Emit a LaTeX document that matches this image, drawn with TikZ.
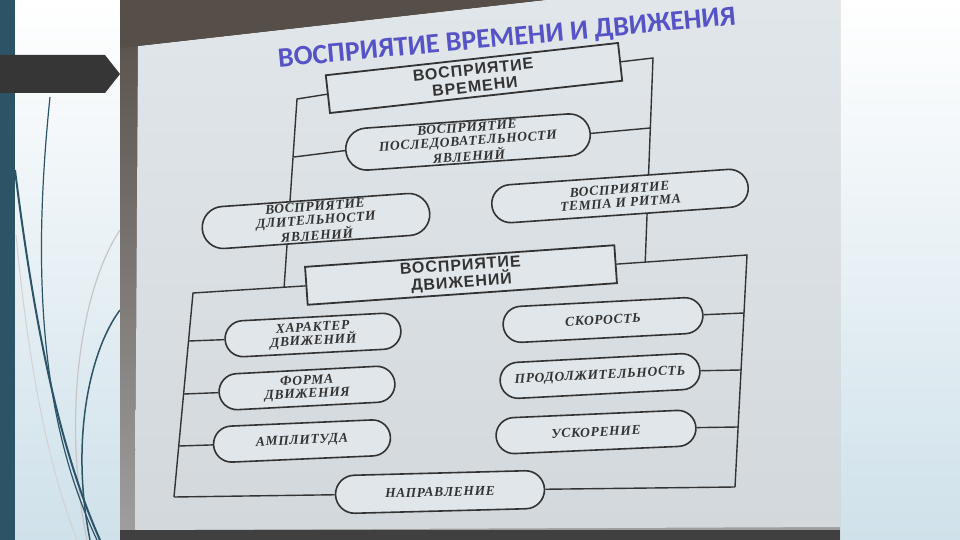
\documentclass[tikz,border=0pt]{standalone}
\usepackage{fontspec}
\setmainfont{Liberation Serif}
\newfontfamily\boxfont[LetterSpace=6]{Liberation Sans}
\newfontfamily\ovalfont[LetterSpace=5]{Liberation Serif}
\newfontfamily\titlefont{Carlito}
\usetikzlibrary{shapes.misc,calc}
\definecolor{stripe}{HTML}{2C5466}
\definecolor{slidebg}{HTML}{CFE1EA}
\definecolor{banner}{HTML}{363636}
\definecolor{screentop}{HTML}{E1E6EA}
\definecolor{screenbot}{HTML}{D2D8DC}
\definecolor{projtop}{HTML}{564E48}
\definecolor{ink}{HTML}{333333}
\definecolor{titleblue}{HTML}{5653C6}

\begin{document}
\begin{tikzpicture}[x=1pt,y=-1pt,
  box/.style={draw=ink,line width=1.8pt,fill=screentop,inner sep=0pt,
    minimum height=38pt,align=center,text=ink,rotate=#1,
    font=\boxfont\bfseries\fontsize{16}{17}\selectfont},
  box/.default=0,
  oval/.style={rounded rectangle,draw=ink,line width=1.6pt,fill=screentop,
    inner sep=0pt,minimum height=36pt,align=center,text=ink,rotate=#1,
    font=\ovalfont\bfseries\itshape\fontsize{13.5}{13.5}\selectfont},
  oval/.default=0,
  link/.style={ink,line width=1.4pt}]
\useasboundingbox (0,0) rectangle (960,540);

% slide template
\shade[top color=white,bottom color=slidebg] (0,0) rectangle (960,540);
\fill[stripe] (0,0) rectangle (15,540);
\draw[gray!35,line width=1pt] (16,235) .. controls (30,380) and (50,470) .. (77,540);
\draw[gray!45,line width=1.2pt] (120,230) .. controls (80,290) and (62,420) .. (87,540);
\draw[stripe,line width=2pt] (15,170) .. controls (35,330) and (60,450) .. (100,540);
\draw[stripe,line width=1.2pt] (50,97) .. controls (30,290) and (45,430) .. (97,540);
\draw[stripe,line width=1.5pt] (120,310) .. controls (90,350) and (70,440) .. (90,540);
\fill[banner] (0,55) -- (105,55) -- (120,74) -- (105,93) -- (0,93) -- cycle;

% photo of the screen
\shade[top color=projtop,bottom color=gray!75] (120,0) rectangle (840,540);
\shade[top color=screentop,bottom color=screenbot]
  (138,46) -- (545,0) -- (840,0) -- (840,527) -- (135,530) -- cycle;
\fill[projtop] (120,0) -- (545,0) -- (138,46) -- (120,48) -- cycle;
\fill[black!75] (120,530) rectangle (840,540);

\node[rotate=5.3,text=titleblue,font=\titlefont\bfseries\fontsize{28}{28}\selectfont]
  (title) at (507,39) {ВОСПРИЯТИЕ ВРЕМЕНИ И ДВИЖЕНИЯ};

\node[box=6.3,minimum width=294pt] (time) at (474,78) {ВОСПРИЯТИЕ\\ВРЕМЕНИ};
\node[box=4,minimum width=310pt] (motion) at (461,275) {ВОСПРИЯТИЕ\\ДВИЖЕНИЙ};

\coordinate (tl) at (297,99);
\coordinate (tr) at (653,58);
\coordinate (bl) at (193,293);
\coordinate (br) at (747,255);
\coordinate (lb) at (174,497);
\coordinate (rb) at (735,487);
\coordinate (ml) at ($(motion.west)!0.19!(bl)$);
\coordinate (mr) at ($(motion.east)!0.22!(br)$);

\draw[link] (time.west) -- (tl) -- (ml);
\draw[link] (time.east) -- (tr) -- (mr);
\draw[link] (motion.west) -- (bl) -- (lb);
\draw[link] (motion.east) -- (br) -- (rb);

\node[oval=4,minimum width=245pt,minimum height=42pt] (seq) at (468,142) {ВОСПРИЯТИЕ\\ПОСЛЕДОВАТЕЛЬНОСТИ\\ЯВЛЕНИЙ};
\node[oval=4,minimum width=228pt,minimum height=42pt] (dur) at (316,221) {ВОСПРИЯТИЕ\\ДЛИТЕЛЬНОСТИ\\ЯВЛЕНИЙ};
\node[oval=4,minimum width=257pt,minimum height=38pt] (tempo) at (620,196) {ВОСПРИЯТИЕ\\ТЕМПА И РИТМА};

\node[oval=3,minimum width=176pt] (char) at (313,335) {ХАРАКТЕР\\ДВИЖЕНИЙ};
\node[oval=3,minimum width=176pt] (form) at (307,388) {ФОРМА\\ДВИЖЕНИЯ};
\node[oval=2.5,minimum width=177pt] (ampl) at (302,441) {АМПЛИТУДА};
\node[oval=3,minimum width=200pt] (speed) at (603,320) {СКОРОСТЬ};
\node[oval=3,minimum width=200pt] (prod) at (600,376) {ПРОДОЛЖИТЕЛЬНОСТЬ};
\node[oval=2.5,minimum width=200pt] (accel) at (596,432) {УСКОРЕНИЕ};
\node[oval=1.5,minimum width=209pt,minimum height=38pt] (napr) at (440,492) {НАПРАВЛЕНИЕ};

\draw[link] (lb) -- (napr.west);
\draw[link] (rb) -- (napr.east);

\coordinate (s1) at (294,157);
\coordinate (s2) at (650,128);
\draw[link] (seq.west) -- (s1);
\draw[link] (seq.east) -- (s2);

\foreach \n/\x/\y in {char/189/341, form/184/394, ampl/179/446}
  \draw[link] (\n.west) -- (\x,\y);
\foreach \n/\x/\y in {speed/744/313, prod/741/370, accel/738/427}
  \draw[link] (\n.east) -- (\x,\y);
\end{tikzpicture}
\end{document}
